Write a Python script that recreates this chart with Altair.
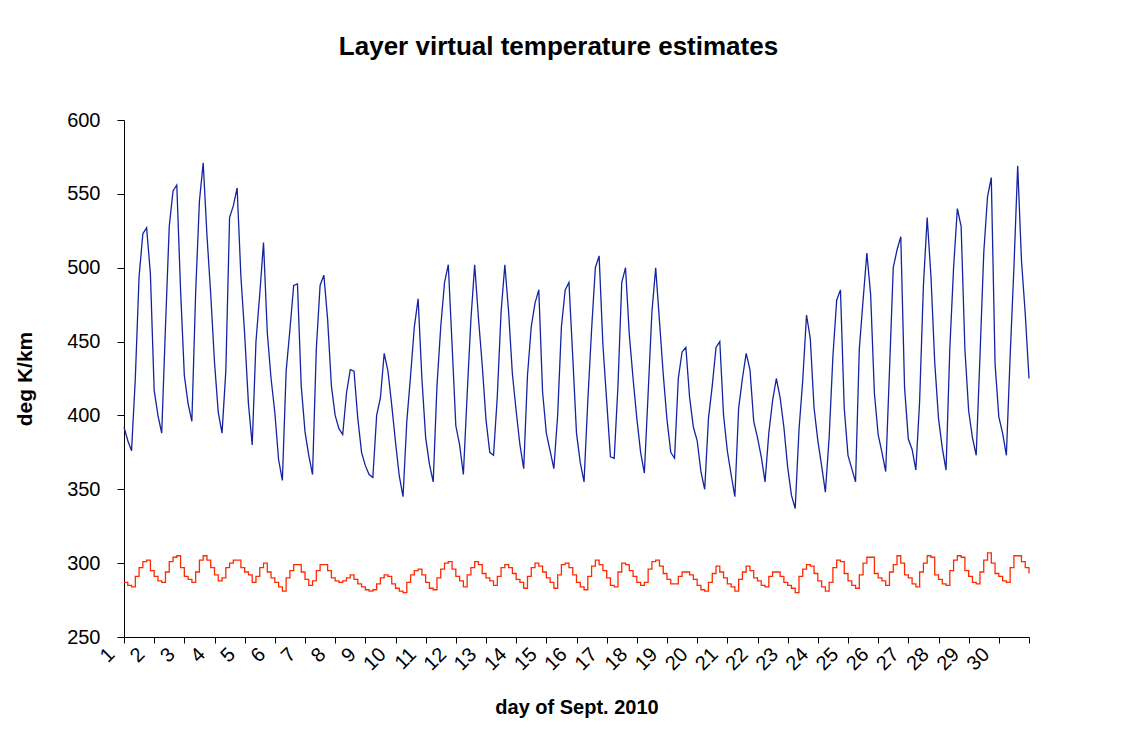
import altair as alt
import numpy as np
import pandas as pd

SAMPLES_PER_DAY = 8  # readings every 3 hours

# upper layer virtual temperature estimate (blue), 8 readings per day, Sept 1 .. Sept 31 00h
upper = [
    392, 383, 376, 425, 494, 523, 527, 496,
    417, 400, 388, 460, 528, 552, 556, 485,
    427, 408, 396, 483, 545, 571, 522, 482,
    436, 402, 388, 430, 534, 542, 554, 494,
    455, 408, 380, 450, 482, 517, 456, 425,
    402, 370, 356, 430, 458, 488, 489, 420,
    389, 373, 360, 445, 488, 495, 465, 420,
    400, 391, 387, 415, 431, 430, 398, 375,
    366, 360, 358, 400, 412, 442, 430, 407,
    382, 359, 345, 396, 427, 460, 479, 425,
    385, 367, 355, 420, 460, 490, 502, 448,
    393, 380, 360, 414, 465, 502, 466, 434,
    397, 375, 373, 413, 470, 502, 470, 428,
    403, 380, 364, 427, 460, 476, 485, 416,
    388, 376, 364, 400, 460, 485, 490, 440,
    388, 368, 355, 410, 458, 500, 508, 448,
    410, 372, 371, 420, 490, 500, 455, 425,
    398, 375, 361, 415, 470, 500, 464, 428,
    397, 375, 371, 425, 443, 446, 412, 392,
    383, 362, 350, 398, 420, 446, 450, 400,
    376, 360, 345, 405, 425, 442, 431, 396,
    385, 372, 355, 388, 410, 425, 412, 392,
    365, 346, 337, 390, 424, 468, 452, 405,
    383, 366, 348, 385, 440, 478, 485, 405,
    373, 364, 355, 445, 478, 510, 482, 415,
    387, 375, 362, 430, 500, 512, 521, 419,
    384, 377, 363, 410, 488, 534, 494, 436,
    398, 378, 363, 445, 500, 540, 528, 445,
    403, 385, 373, 440, 510, 548, 561, 435,
    399, 388, 373, 440, 500, 569, 505, 469,
    425,
]

# lower layer virtual temperature estimate (red)
lower = [
    287, 285, 284, 291, 297, 301, 302, 295,
    291, 288, 287, 294, 301, 304, 305, 297,
    291, 289, 287, 294, 302, 305, 302, 297,
    292, 288, 290, 297, 300, 302, 302, 297,
    294, 292, 287, 291, 297, 300, 294, 290,
    287, 284, 281, 290, 295, 299, 299, 294,
    289, 285, 288, 295, 299, 299, 295, 290,
    288, 287, 288, 290, 292, 289, 286, 284,
    282, 281, 282, 286, 290, 292, 291, 286,
    283, 281, 280, 287, 292, 295, 296, 292,
    287, 283, 282, 290, 296, 300, 301, 296,
    291, 288, 284, 292, 297, 301, 299, 293,
    290, 288, 285, 291, 297, 299, 297, 293,
    289, 287, 283, 291, 297, 300, 298, 294,
    290, 287, 283, 292, 299, 300, 297, 292,
    287, 284, 282, 291, 298, 302, 299, 295,
    290, 285, 284, 294, 300, 299, 295, 291,
    287, 285, 287, 296, 301, 302, 298, 293,
    289, 286, 286, 291, 294, 294, 292, 289,
    285, 282, 281, 287, 293, 298, 294, 290,
    286, 284, 281, 289, 294, 298, 295, 290,
    288, 285, 284, 291, 294, 294, 291, 287,
    285, 283, 280, 291, 296, 299, 298, 293,
    288, 284, 281, 287, 297, 302, 301, 293,
    288, 285, 283, 292, 300, 304, 304, 293,
    290, 288, 285, 294, 299, 305, 300, 292,
    290, 286, 284, 294, 300, 305, 304, 292,
    289, 286, 285, 295, 302, 305, 304, 295,
    291, 287, 286, 294, 302, 307, 300, 293,
    291, 288, 287, 297, 305, 305, 301, 297,
    293,
]

day_ticks = list(range(1, 32))
y_ticks = [250, 300, 350, 400, 450, 500, 550, 600]

day = 1 + np.arange(len(upper)) / SAMPLES_PER_DAY
df = pd.DataFrame({"day": day, "upper": upper, "lower": lower})

FONT = "Liberation Sans"

x_enc = alt.X(
    "day:Q",
    scale=alt.Scale(domain=[1, 31], nice=False, zero=False),
    axis=alt.Axis(
        values=day_ticks,
        labelExpr="datum.value > 30 ? '' : datum.label",
        labelAngle=-45,
        labelAlign="right",
        labelBaseline="middle",
        labelOffset=-13,
        labelPadding=8,
        labelFontSize=20,
        labelFlush=False,
        labelOverlap=False,
        labelBound=False,
        tickSize=6,
        grid=False,
        title="day of Sept. 2010",
        titleFontSize=20,
        titleFontWeight="bold",
        titleY=76,
        titleBaseline="alphabetic",
    ),
)

y_axis = alt.Axis(
    values=y_ticks,
    labelFontSize=20,
    labelPadding=17,
    tickSize=7,
    grid=False,
    title="deg K/km",
    titleFontSize=21,
    titleFontWeight="bold",
    titleAngle=-90,
    titleX=-93,
    titleY=258.5,
    titleAlign="center",
    titleBaseline="alphabetic",
)
y_scale = alt.Scale(domain=[250, 600], nice=False, zero=False)

base = alt.Chart(df)
blue_line = base.mark_line(color="#1424a0", strokeWidth=1.3).encode(
    x=x_enc, y=alt.Y("upper:Q", scale=y_scale, axis=y_axis)
)
red_line = base.mark_line(
    color="#ff2a00", strokeWidth=1.3, interpolate="step-after"
).encode(x=x_enc, y=alt.Y("lower:Q", scale=y_scale))

chart = (
    alt.layer(blue_line, red_line)
    .properties(
        width=905,
        height=517,
        title=alt.TitleParams(
            "Layer virtual temperature estimates",
            fontSize=26,
            fontWeight="bold",
            font=FONT,
            anchor="middle",
            frame="group",
            dx=-18,
            offset=29,
            baseline="alphabetic",
            color="black",
        ),
        autosize=alt.AutoSizeParams(type="none"),
        padding={"left": 116, "top": 112, "right": 90, "bottom": 90},
        background="white",
    )
    .configure_view(stroke=None)
    .configure_axis(
        labelFont=FONT,
        titleFont=FONT,
        labelColor="black",
        titleColor="black",
        domainColor="black",
        tickColor="black",
        domainWidth=1,
        tickWidth=1,
    )
)

chart.save("out.html", embed_options={"renderer": "svg", "actions": False})
